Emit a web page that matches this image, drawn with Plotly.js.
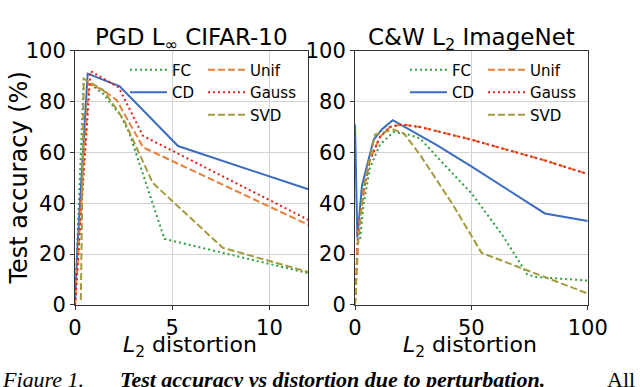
<!DOCTYPE html>
<html>
<head>
<meta charset="utf-8">
<script src="https://cdn.plot.ly/plotly-3.0.1.min.js"></script>
<style>
  html, body { margin: 0; padding: 0; background: #fff; }
  #plot { width: 640px; height: 387px; }
</style>
</head>
<body>
<div id="plot"></div>
<script>
// PGD L-inf on CIFAR-10 (left panel)
const fcA_x = [0, 0.45, 1.45, 2.35, 2.8, 4.6, 12];
const fcA_y = [0, 89, 83, 74.5, 67.5, 26, 12.5];
const cdA_x = [0, 0.12, 0.65, 2.3, 5.3, 12];
const cdA_y = [0, 22, 91, 86, 62.5, 45.5];
const unifA_x = [0, 0.7, 1.45, 2.15, 3.5, 12];
const unifA_y = [0, 87, 84.5, 80.5, 62, 31.5];
const gaussA_x = [0, 0.8, 2.25, 3.5, 12];
const gaussA_y = [0, 92, 85.5, 66.5, 33.5];
const svdA_x = [0.3, 0.45, 1.45, 2.5, 4.0, 7.6, 12];
const svdA_y = [2, 89, 84.5, 73, 48, 22.5, 13];

// C&W L2 on ImageNet (right panel)
const fcB_x = [2.2, 3.6, 6.4, 10.7, 16.5, 23, 28, 36.5, 50, 63.7, 74, 78, 100];
const fcB_y = [26, 39, 54, 63, 68, 67, 65.5, 57, 44, 27, 12, 11, 9.6];
const cdB_x = [0, 1, 3, 8, 11.5, 16.2, 35, 50, 81.6, 100];
const cdB_y = [71, 26.5, 47, 65, 69, 72.7, 63, 54.5, 36, 33];
const unifB_x = [0, 1.4, 4.3, 6.4, 10.7, 15, 20, 28, 50, 81, 100];
const unifB_y = [0, 30, 48, 57, 66, 70, 71, 70, 65, 57, 51.5];
const gaussB_x = [0, 1.4, 4.3, 6.4, 10.7, 15, 20, 28, 50, 81, 100];
const gaussB_y = [0, 30, 48, 57, 66, 70, 71, 70, 65, 57, 51.5];
const svdB_x = [0, 1.4, 3.6, 8.6, 16.5, 21, 28, 42, 54.4, 100];
const svdB_y = [0, 25, 46, 67, 69, 67.5, 59, 39.5, 20.5, 4.5];

const yTicks = [0, 20, 40, 60, 80, 100];
const xTicksA = [0, 5, 10];
const xTicksB = [0, 50, 100];

const FONT = 'DejaVu Sans, sans-serif';
const SERIF = 'Liberation Serif, serif';

// line style per method
const styles = {
  FC: { color: '#2e9e3e', dash: '2px,3px' },
  CD: { color: '#3b6dbf', dash: 'solid' },
  Unif: { color: '#e8823a', dash: '7px,3px' },
  Gauss: { color: '#e0201c', dash: '2px,3px' },
  SVD: { color: '#a49a3e', dash: '7px,3px' }
};

function line (name, x, y, xaxis, yaxis, legend) {
  const s = styles[name];
  return {
    type: 'scatter',
    mode: 'lines',
    name,
    x,
    y,
    xaxis,
    yaxis,
    legend,
    line: { color: s.color, width: 2, dash: s.dash },
    hoverinfo: 'skip'
  };
}

function createPlotData () {
  return [
    line('FC', fcA_x, fcA_y, 'x', 'y', 'legend'),
    line('CD', cdA_x, cdA_y, 'x', 'y', 'legend'),
    line('Unif', unifA_x, unifA_y, 'x', 'y', 'legend2'),
    line('Gauss', gaussA_x, gaussA_y, 'x', 'y', 'legend2'),
    line('SVD', svdA_x, svdA_y, 'x', 'y', 'legend2'),
    line('FC', fcB_x, fcB_y, 'x2', 'y2', 'legend3'),
    line('CD', cdB_x, cdB_y, 'x2', 'y2', 'legend3'),
    line('Unif', unifB_x, unifB_y, 'x2', 'y2', 'legend4'),
    line('Gauss', gaussB_x, gaussB_y, 'x2', 'y2', 'legend4'),
    line('SVD', svdB_x, svdB_y, 'x2', 'y2', 'legend4')
  ];
}

function axis (extra) {
  return Object.assign({
    showline: true,
    mirror: true,
    linecolor: '#333',
    linewidth: 1,
    showgrid: true,
    gridcolor: '#d3d3d3',
    gridwidth: 1,
    zeroline: false,
    ticks: 'outside',
    ticklen: 4,
    tickcolor: '#333',
    tickfont: { family: FONT, size: 21, color: '#000' },
    tickmode: 'array',
    fixedrange: true
  }, extra);
}

function legend (x) {
  return {
    x,
    y: 0.862,
    xanchor: 'left',
    yanchor: 'top',
    bgcolor: 'rgba(0,0,0,0)',
    borderwidth: 0,
    itemwidth: 37,
    tracegroupgap: 0,
    font: { family: FONT, size: 15, color: '#000' }
  };
}

function label (text, x, y, extra) {
  return Object.assign({
    text,
    x,
    y,
    xref: 'paper',
    yref: 'paper',
    showarrow: false,
    xanchor: 'center',
    yanchor: 'middle',
    font: { family: FONT, size: 23, color: '#000' }
  }, extra);
}

function createLayout () {
  const yDomain = [0.2119, 0.869];
  const capFont = { family: SERIF, size: 22, color: '#000' };
  return {
    width: 640,
    height: 387,
    margin: { l: 0, r: 0, t: 0, b: 0 },
    paper_bgcolor: '#fff',
    plot_bgcolor: '#fff',
    showlegend: true,
    xaxis: axis({ domain: [0.1172, 0.4817], range: [0, 12], tickvals: xTicksA, anchor: 'y' }),
    yaxis: axis({ domain: yDomain, range: [0, 100], tickvals: yTicks, anchor: 'x' }),
    xaxis2: axis({ domain: [0.5547, 0.9183], range: [0, 100], tickvals: xTicksB, anchor: 'y2' }),
    yaxis2: axis({ domain: yDomain, range: [0, 100], tickvals: yTicks, anchor: 'x2' }),
    legend: legend(0.1953),
    legend2: legend(0.3172),
    legend3: legend(0.6328),
    legend4: legend(0.7547),
    annotations: [
      label('PGD L<sub>∞</sub> CIFAR-10', 0.2985, 0.899),
      label('C&W L<sub>2</sub> ImageNet', 0.7365, 0.899),
      label('<i>L</i><sub>2</sub> distortion', 0.297, 0.104, { font: { family: FONT, size: 22, color: '#000' } }),
      label('<i>L</i><sub>2</sub> distortion', 0.734, 0.104, { font: { family: FONT, size: 22, color: '#000' } }),
      label('Test accuracy (%)', 0.029, 0.54, { textangle: -90, font: { family: FONT, size: 24, color: '#000' } }),
      // justified caption line, cut by the bottom edge as in the source
      label('<i>Figure 1.</i>', 0, 0.058, { xanchor: 'left', yanchor: 'top', font: capFont }),
      label('<b><i>Test accuracy vs distortion due to perturbation.</i></b>', 0.184, 0.058, { xanchor: 'left', yanchor: 'top', font: capFont }),
      label('All', 0.995, 0.058, { xanchor: 'right', yanchor: 'top', font: capFont })
    ]
  };
}

function makePlot () {
  Plotly.newPlot('plot', createPlotData(), createLayout(), {
    displayModeBar: false,
    staticPlot: true
  });
}

makePlot();
</script>
</body>
</html>
